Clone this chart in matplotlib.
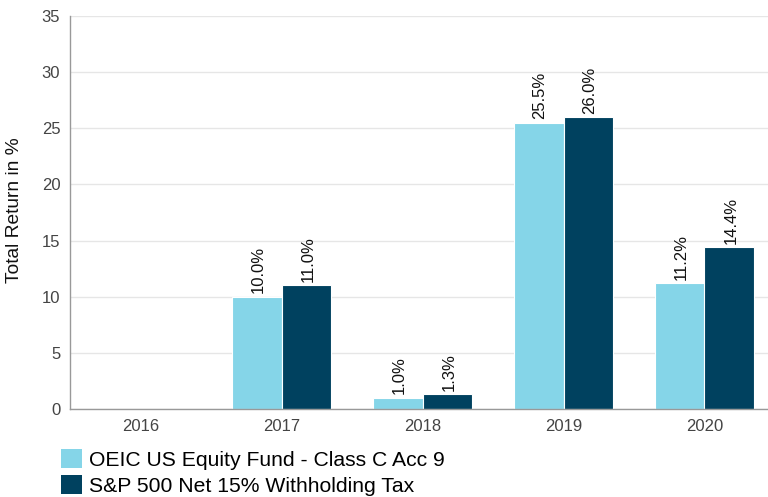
import matplotlib
matplotlib.use("Agg")
import matplotlib.pyplot as plt
import numpy as np
from matplotlib.patches import Patch

plt.rcParams['font.family'] = ['Liberation Sans', 'DejaVu Sans']

years = ["2016", "2017", "2018", "2019", "2020"]
fund = [np.nan, 10.0, 1.0, 25.5, 11.2]
index = [np.nan, 11.0, 1.3, 26.0, 14.4]
fund_name = "OEIC US Equity Fund - Class C Acc 9"
index_name = "S&P 500 Net 15% Withholding Tax"
yticks = [0, 5, 10, 15, 20, 25, 30, 35]

c_light = "#85D5E8"
c_dark = "#00415F"

W, H = 768, 497
fig = plt.figure(figsize=(W/100, H/100), dpi=100)
left = 70/W
right = 775/W
bottom = (H-409)/H
top = (H-16)/H
ax = fig.add_axes([left, bottom, right-left, top-bottom])

x = np.arange(len(years))
bw = 0.354
b1 = ax.bar(x - bw/2, fund, bw, color=c_light, edgecolor="white", linewidth=0.8, zorder=2)
b2 = ax.bar(x + bw/2, index, bw, color=c_dark, edgecolor="white", linewidth=0.8, zorder=2)

for bars, vals in ((b1, fund), (b2, index)):
    for rect, v in zip(bars, vals):
        if np.isnan(v):
            continue
        ax.annotate(f"{v:.1f}%", (rect.get_x() + rect.get_width()/2, v),
                    xytext=(1, 2.5), textcoords="offset points",
                    rotation=90, ha="center", va="bottom", fontsize=12, color="#111111")

ax.set_xlim(-0.5, len(years) - 0.5)
ax.set_ylim(0, 35)
ax.set_yticks(yticks)
ax.set_xticks(x)
ax.set_xticklabels(years)
ax.tick_params(axis="both", length=0, labelsize=12, colors="#444444")
ax.tick_params(axis="y", pad=7)
ax.tick_params(axis="x", pad=7)
ax.grid(axis="y", color="#E6E6E6", linewidth=1, zorder=0)
for s in ("top", "right"):
    ax.spines[s].set_visible(False)
for s in ("left", "bottom"):
    ax.spines[s].set_color("#999999")
    ax.spines[s].set_linewidth(1)
ax.spines["left"].set_zorder(3)

fig.text(15/W, 1 - 210/H, "Total Return in %", rotation=90, ha="center", va="center",
         fontsize=13.75, color="#111111")

handles = [Patch(facecolor=c_light, label=fund_name), Patch(facecolor=c_dark, label=index_name)]
leg = fig.legend(handles=handles, loc="upper left", bbox_to_anchor=(61/W, 1 - 449/H),
                 frameon=False, fontsize=15.2, handlelength=1.0, handleheight=1.0,
                 handletextpad=0.33, labelspacing=0.26, borderaxespad=0, borderpad=0)

fig.savefig("out.png", dpi=100)
